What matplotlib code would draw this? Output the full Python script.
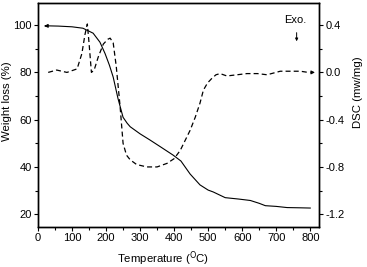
import numpy as np
import matplotlib.pyplot as plt
from matplotlib.ticker import MultipleLocator

plt.rcParams['font.family'] = ['Liberation Sans', 'DejaVu Sans']

# TGA curve (weight loss, %)
t_tga = [30, 60, 100, 132, 162, 182, 197, 210, 221, 235, 250, 262, 271, 300, 329,
         360, 397, 420, 447, 476, 500, 515, 550, 590, 624, 650, 668, 700, 732, 770, 800]
w_tga = [99.7, 99.6, 99.3, 98.7, 96.6, 92.8, 88.0, 83.0, 78.0, 69.0, 61.0, 58.5, 57.0,
         54.0, 51.4, 48.5, 45.0, 42.5, 37.0, 32.4, 30.2, 29.4, 27.0, 26.4, 25.8, 24.6,
         23.6, 23.3, 22.8, 22.7, 22.6]

# DSC curve (mw/mg)
t_dsc = [30, 55, 85, 115, 129, 138, 145, 150, 157, 165, 177, 192, 205, 212, 221, 230,
         241, 250, 260, 271, 290, 320, 350, 379, 400, 418, 447, 462, 476, 486, 498, 511,
         523, 535, 555, 585, 614, 645, 673, 712, 740, 771, 794]
d_dsc = [0.0, 0.02, 0.0, 0.03, 0.16, 0.32, 0.41, 0.25, 0.0, 0.02, 0.13, 0.24, 0.28,
         0.29, 0.25, 0.05, -0.28, -0.6, -0.70, -0.74, -0.78, -0.80, -0.80, -0.77, -0.73,
         -0.66, -0.49, -0.38, -0.26, -0.15, -0.09, -0.05, -0.02, -0.01, -0.03, -0.02,
         -0.01, -0.01, -0.02, 0.01, 0.01, 0.01, 0.0]

fig = plt.figure(figsize=(3.67, 2.67), dpi=100)
ax = fig.add_axes([0.1035, 0.15, 0.766, 0.839])
ax2 = ax.twinx()

ax.plot(t_tga, w_tga, color='black', lw=0.8)
ax2.plot(t_dsc, d_dsc, color='black', lw=0.9, ls=(0, (4, 2.5)))

ax.set_xlim(0, 826)
ax.set_ylim(14.6, 109.4)
ax2.set_ylim(0.02 * 14.6 - 1.6, 0.02 * 109.4 - 1.6)

ax.xaxis.set_major_locator(MultipleLocator(100))
ax.xaxis.set_minor_locator(MultipleLocator(50))
ax.yaxis.set_major_locator(MultipleLocator(20))
ax.yaxis.set_minor_locator(MultipleLocator(10))
ax2.yaxis.set_major_locator(MultipleLocator(0.4))
ax2.yaxis.set_minor_locator(MultipleLocator(0.2))
ax2.yaxis.set_major_formatter(plt.FuncFormatter(lambda v, p: f'{v:.1f}'))

for a in (ax, ax2):
    a.tick_params(which='major', direction='out', length=3, width=0.8, labelsize=8, pad=1.5)
    a.tick_params(which='minor', direction='out', length=2, width=0.8)
    for s in a.spines.values():
        s.set_linewidth(1.0)

ax.set_xlabel(r'Temperature ($^{\rm O}$C)', fontsize=8.2)
ax.xaxis.set_label_coords(0.445, -0.1)
ax.set_ylabel('Weight loss (%)', fontsize=8.2)
ax.yaxis.set_label_coords(-0.094, 0.56)
ax2.set_ylabel('DSC (mw/mg)', fontsize=8.2)
ax2.yaxis.set_label_coords(1.12, 0.6)

# arrows showing which axis each curve belongs to
ax.annotate('', xy=(10, 99.6), xytext=(30, 99.7),
            arrowprops=dict(arrowstyle='-|>', color='black', lw=0.8, mutation_scale=5))
ax2.annotate('', xy=(822, 0.0), xytext=(794, 0.0),
             arrowprops=dict(arrowstyle='-|>', color='black', lw=0.8, mutation_scale=5))

ax2.text(755, 0.44, 'Exo.', fontsize=8, ha='center', va='center')
ax2.annotate('', xy=(760, 0.24), xytext=(760, 0.36),
             arrowprops=dict(arrowstyle='-|>', color='black', lw=0.7, mutation_scale=4))

fig.savefig('out.png', dpi=100)
